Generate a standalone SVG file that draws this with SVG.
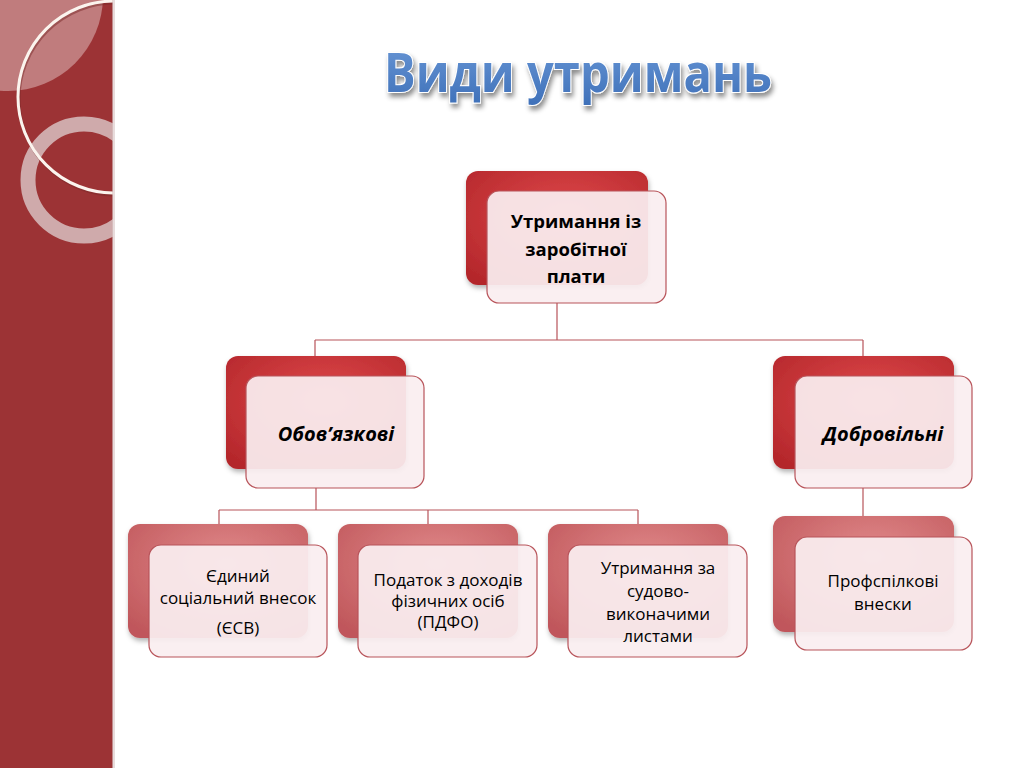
<svg xmlns="http://www.w3.org/2000/svg" width="1024" height="768" viewBox="0 0 1024 768">
<defs>
<radialGradient id="gDark" cx="0.55" cy="0.4" r="0.75">
<stop offset="0" stop-color="#e0494c"/>
<stop offset="1" stop-color="#b3262a"/>
</radialGradient>
<radialGradient id="gLight" cx="0.55" cy="0.35" r="0.75">
<stop offset="0" stop-color="#e18a8b"/>
<stop offset="1" stop-color="#c0575b"/>
</radialGradient>
<linearGradient id="gTitle" x1="0" y1="0" x2="0" y2="1">
<stop offset="0" stop-color="#6c9ad8"/>
<stop offset="1" stop-color="#3d6fb8"/>
</linearGradient>
<filter id="sh" x="-10%" y="-10%" width="130%" height="140%">
<feDropShadow dx="1" dy="3" stdDeviation="2.5" flood-color="#000" flood-opacity="0.3"/>
</filter>
<filter id="tsh" x="-5%" y="-20%" width="115%" height="160%">
<feDropShadow dx="2" dy="4" stdDeviation="2.5" flood-color="#000" flood-opacity="0.45"/>
</filter>
<clipPath id="strip"><rect x="0" y="0" width="113" height="768"/></clipPath>
</defs>
<style>
.back{filter:url(#sh)}
.front{fill:#faeef0;fill-opacity:0.93;stroke:#b8545a;stroke-width:1.2}
.t{font-family:"Open Sans","Noto Sans",sans-serif;fill:#000;text-anchor:middle}
.b{font-weight:bold;font-size:18.5px}
.i{font-weight:bold;font-style:italic;font-size:20px}
.r{font-size:17px}
.conn{fill:none;stroke:#b8545a;stroke-width:1.2}
</style>
<rect width="1024" height="768" fill="#fff"/>
<g id="background">
<rect x="0" y="0" width="113" height="768" fill="#9c3335"/>
<g clip-path="url(#strip)">
<circle cx="8" cy="-4" r="95" fill="#c07c7d"/>
<circle cx="84" cy="180" r="56" fill="none" stroke="#cfaaab" stroke-width="15"/>
<circle cx="114" cy="97" r="96" fill="none" stroke="#7a2a2a" stroke-width="3" opacity="0.5" transform="translate(1,2)"/>
<circle cx="114" cy="97" r="96" fill="none" stroke="#fbf4ee" stroke-width="3"/>
</g>
<rect x="112" y="0" width="3" height="768" fill="#d9c4c4" opacity="0.6"/>
</g>
<g id="title">
<text x="578" y="92" font-family="Open Sans, Noto Sans, sans-serif" font-weight="bold" font-size="54" text-anchor="middle" fill="url(#gTitle)" stroke="#ffffff" stroke-width="2" paint-order="stroke" filter="url(#tsh)" textLength="388" lengthAdjust="spacingAndGlyphs">Види утримань</text>
</g>
<g id="connectors">
<path class="conn" d="M557 303 V340 M315 340 H863 M315 340 V356 M863 340 V356"/>
<path class="conn" d="M316 488 V510 M219 510 H638 M219 510 V524 M428 510 V524 M638 510 V524"/>
<path class="conn" d="M863 488 V516"/>
</g>
<g id="n-top">
<rect class="back" x="466" y="171" width="182" height="114" rx="12" fill="url(#gDark)"/>
<rect class="front" x="487" y="191" width="179" height="112" rx="12"/>
<text class="t b" x="576" y="228">Утримання із</text>
<text class="t b" x="576" y="256">заробітної</text>
<text class="t b" x="576" y="283">плати</text>
</g>
<g id="n-oblig">
<rect class="back" x="226" y="356" width="180" height="113" rx="12" fill="url(#gDark)"/>
<rect class="front" x="246" y="376" width="178" height="112" rx="12"/>
<text class="t i" x="336" y="441">Обов’язкові</text>
</g>
<g id="n-volunt">
<rect class="back" x="773" y="356" width="181" height="113" rx="12" fill="url(#gDark)"/>
<rect class="front" x="795" y="376" width="177" height="112" rx="12"/>
<text class="t i" x="883" y="441">Добровільні</text>
</g>
<g id="n-esv">
<rect class="back" x="128" y="524" width="180" height="114" rx="12" fill="url(#gLight)"/>
<rect class="front" x="149" y="545" width="178" height="112" rx="12"/>
<text class="t r" x="238" y="582">Єдиний</text>
<text class="t r" x="238" y="604">соціальний внесок</text>
<text class="t r" x="238" y="634">(ЄСВ)</text>
</g>
<g id="n-pdfo">
<rect class="back" x="338" y="524" width="180" height="114" rx="12" fill="url(#gLight)"/>
<rect class="front" x="358" y="545" width="179" height="112" rx="12"/>
<text class="t r" x="448" y="586">Податок з доходів</text>
<text class="t r" x="448" y="607">фізичних осіб</text>
<text class="t r" x="448" y="628">(ПДФО)</text>
</g>
<g id="n-court">
<rect class="back" x="548" y="524" width="180" height="114" rx="12" fill="url(#gLight)"/>
<rect class="front" x="568" y="545" width="179" height="112" rx="12"/>
<text class="t r" x="658" y="574">Утримання за</text>
<text class="t r" x="658" y="597">судово-</text>
<text class="t r" x="658" y="620">виконачими</text>
<text class="t r" x="658" y="642">листами</text>
</g>
<g id="n-union">
<rect class="back" x="773" y="516" width="181" height="116" rx="12" fill="url(#gLight)"/>
<rect class="front" x="795" y="537" width="177" height="113" rx="12"/>
<text class="t r" x="883" y="587">Профспілкові</text>
<text class="t r" x="883" y="610">внески</text>
</g>
</svg>
